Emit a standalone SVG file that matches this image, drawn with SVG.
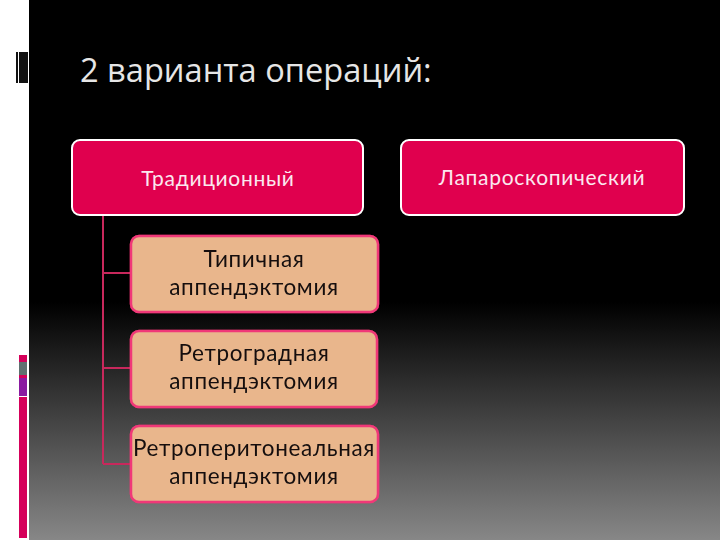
<svg xmlns="http://www.w3.org/2000/svg" width="720" height="540" viewBox="0 0 720 540">
<defs>
<linearGradient id="bg" x1="0" y1="0" x2="0" y2="540" gradientUnits="userSpaceOnUse">
<stop offset="0" stop-color="#000"/>
<stop offset="0.56" stop-color="#000"/>
<stop offset="1" stop-color="#878787"/>
</linearGradient>
<filter id="glow" x="-10%" y="-20%" width="120%" height="140%">
<feGaussianBlur in="SourceAlpha" stdDeviation="2"/>
<feFlood flood-color="#ff3070" flood-opacity="0.6"/>
<feComposite operator="in" in2="SourceGraphic"/>
<feMerge><feMergeNode/><feMergeNode in="SourceGraphic"/></feMerge>
</filter>
<style>
.top{fill:#e0004e;stroke:#fff;stroke-width:2}
.sub{fill:#e9b68c;stroke:#f03878;stroke-width:2.5}
.tt{font-family:Lato,"Open Sans",sans-serif;font-size:21px;letter-spacing:0.7px;fill:#fbe8ef;text-anchor:middle}
.st{font-family:Lato,"Open Sans",sans-serif;font-size:22.5px;letter-spacing:0.65px;fill:#151010;text-anchor:middle}
.title{font-family:"Open Sans","DejaVu Sans",sans-serif;font-size:32.6px;fill:#e6e6e6}
.conn{stroke:#c8285c;stroke-width:2;fill:none}
</style>
</defs>
<rect x="0" y="0" width="720" height="540" fill="url(#bg)"/>
<rect x="0" y="0" width="29" height="540" fill="#fff"/>
<rect x="16" y="52" width="12" height="31" fill="#111"/>
<rect x="18" y="52" width="1" height="31" fill="#fff"/>
<rect x="19" y="355" width="8" height="183" fill="#d5005a"/>
<rect x="19" y="362" width="8" height="13" fill="#607070"/>
<rect x="19" y="378" width="8" height="18" fill="#8a1aa0"/>
<rect x="19" y="396" width="8" height="1" fill="#fff"/>
<text class="title" x="80" y="82">2 варианта операций:</text>
<g id="connectors">
<path class="conn" d="M103 215 V464 M103 273 H130 M103 368 H130 M103 464 H130"/>
</g>
<g id="node-traditional">
<rect class="top" x="72" y="140" width="291" height="75" rx="8"/>
<text class="tt" x="218" y="186">Традиционный</text>
</g>
<g id="node-laparoscopic">
<rect class="top" x="401" y="140" width="283" height="75" rx="8"/>
<text class="tt" x="542" y="185">Лапароскопический</text>
</g>
<g id="node-typical" filter="url(#glow)">
<rect class="sub" x="131" y="236" width="247" height="76" rx="8"/>
<text class="st" x="254" y="267">Типичная</text>
<text class="st" x="254" y="295">аппендэктомия</text>
</g>
<g id="node-retrograde" filter="url(#glow)">
<rect class="sub" x="131" y="331" width="246" height="76" rx="8"/>
<text class="st" x="254" y="361">Ретроградная</text>
<text class="st" x="254" y="389">аппендэктомия</text>
</g>
<g id="node-retroperitoneal" filter="url(#glow)">
<rect class="sub" x="131" y="426" width="247" height="76" rx="8"/>
<text class="st" x="254" y="456">Ретроперитонеальная</text>
<text class="st" x="254" y="484">аппендэктомия</text>
</g>
</svg>
